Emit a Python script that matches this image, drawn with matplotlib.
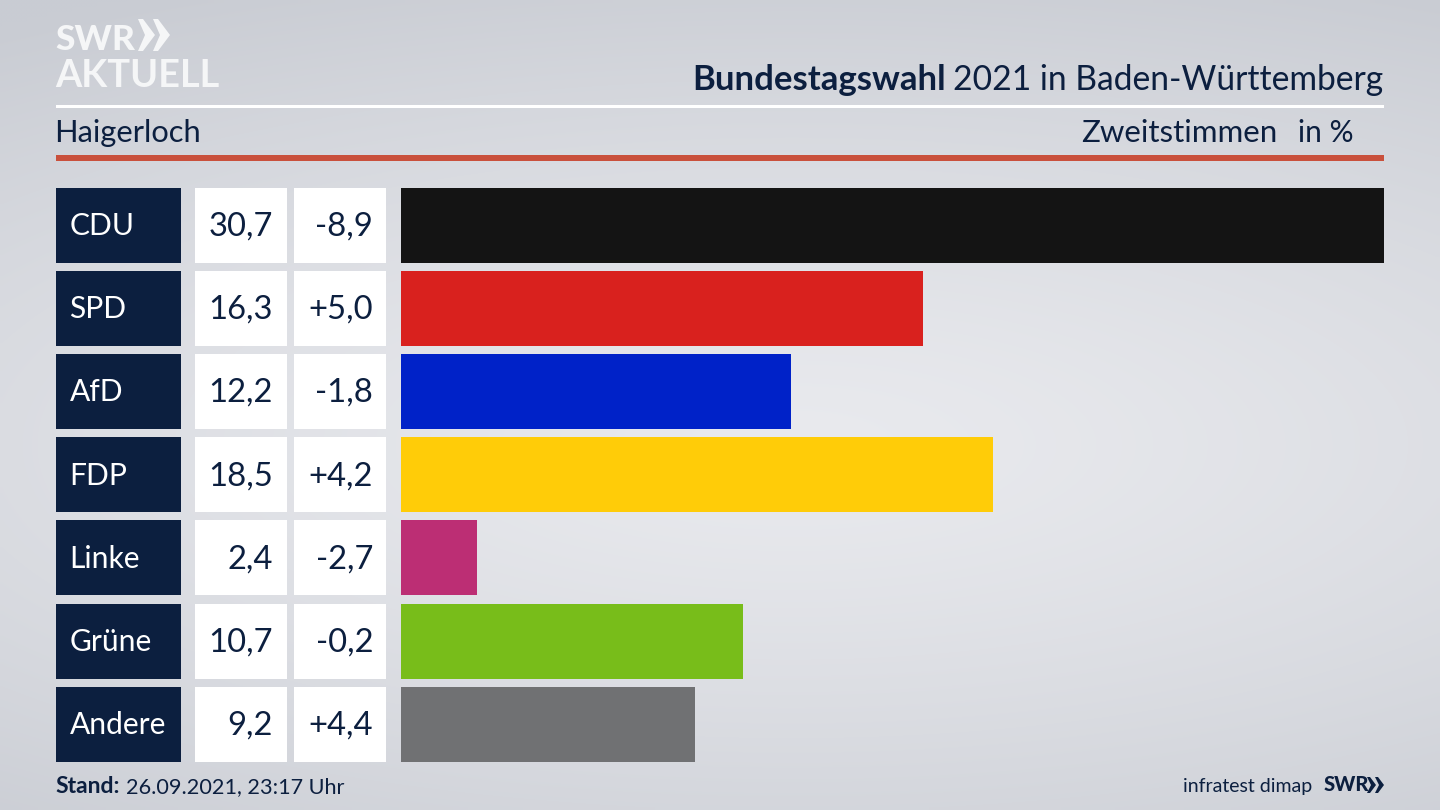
import numpy as np
import matplotlib
matplotlib.use("Agg")
import matplotlib.pyplot as plt
from matplotlib.patches import Rectangle, Polygon

parties = ["CDU", "SPD", "AfD", "FDP", "Linke", "Grüne", "Andere"]
shares = [30.7, 16.3, 12.2, 18.5, 2.4, 10.7, 9.2]
changes = ["-8,9", "+5,0", "-1,8", "+4,2", "-2,7", "-0,2", "+4,4"]
bar_colors = ["#141414", "#d9211e", "#0022c8", "#ffcc08", "#bc2e74", "#78bd1a", "#707173"]

NAVY = "#0c1f3f"
FONT = "Lato"
W, H = 1440, 810
fig = plt.figure(figsize=(W / 100, H / 100), dpi=100)

bg = fig.add_axes([0, 0, 1, 1])
bg.set_xlim(0, W)
bg.set_ylim(H, 0)
bg.axis("off")

yy, xx = np.mgrid[0:1:162j, 0:1:288j]
dist = np.sqrt(((xx - 0.55) / 1.0) ** 2 + ((yy - 0.55) / 0.62) ** 2)
shade = np.clip(dist, 0, 1)
light = np.array([233, 234, 238]) / 255
dark = np.array([201, 204, 211]) / 255
img = light + (dark - light) * shade[..., None] ** 1.3
bg.imshow(img, extent=(0, W, H, 0), aspect="auto", zorder=0, interpolation="bilinear")

bg.add_patch(Rectangle((56, 104.5), 1328, 3, color="white", lw=0, zorder=1))
bg.add_patch(Rectangle((56, 155), 1328, 5.5, color="#c9503c", lw=0, zorder=1))


def label(x, y, s, size, color=NAVY, ha="left", weight="normal"):
    return bg.text(x, y, s, family=FONT, fontsize=size, color=color, ha=ha, va="baseline",
                   weight=weight, zorder=2)


LOGO = "#f5f6f7"
label(55, 50, "SWR", 25.5, LOGO, weight="black")
label(55, 87, "AKTUELL", 27.3, LOGO, weight="bold")
for x0 in (138, 153):
    bg.add_patch(Polygon([(x0, 19), (x0 + 5, 19), (x0 + 17, 35), (x0 + 5, 51), (x0, 51), (x0 + 7, 35)],
                         closed=True, color=LOGO, lw=0, zorder=2))

label(692, 90, "Bundestagswahl", 25, weight="bold")
label(1383, 90, "2021 in Baden-Württemberg", 24.2, ha="right")
label(54.5, 142, "Haigerloch", 22.2)
label(1277, 142, "Zweitstimmen", 22.5, ha="right")
label(1354, 142, "in %", 21.5, ha="right")

top, step, bar_h = 187.5, 83.2, 75
bottom = top + step * (len(parties) - 1) + bar_h
ax = fig.add_axes([400.5 / W, 1 - bottom / H, (1384 - 400.5) / W, (bottom - top) / H])
ax.patch.set_alpha(0)
ax.set_xlim(0, max(shares))
half = bar_h / 2 / step
ax.set_ylim(len(parties) - 1 + half, -half)
ax.barh(range(len(parties)), shares, height=bar_h / step, color=bar_colors)
ax.axis("off")

for i, (party, share, change) in enumerate(zip(parties, shares, changes)):
    y = top + i * step
    base = y + 47.5
    bg.add_patch(Rectangle((56, y), 125, bar_h, color=NAVY, lw=0, zorder=1))
    bg.add_patch(Rectangle((195, y), 92, bar_h, color="white", lw=0, zorder=1))
    bg.add_patch(Rectangle((294, y), 92, bar_h, color="white", lw=0, zorder=1))
    label(69.5, base, party, 21.6, "white")
    label(273, base + 0.5, f"{share:.1f}".replace(".", ","), 23.6, ha="right")
    label(373, base + 0.5, change, 23.6, ha="right")

label(55.5, 793, "Stand:", 16.5, weight="bold")
label(126, 793, "26.09.2021, 23:17 Uhr", 15.6)
label(1312, 792, "infratest dimap", 14, ha="right")
label(1323.5, 791, "SWR", 14.5, weight="black")
for x0 in (1367, 1375):
    bg.add_patch(Polygon([(x0, 777), (x0 + 3, 777), (x0 + 9, 785), (x0 + 3, 793), (x0, 793), (x0 + 4, 785)],
                         closed=True, color=NAVY, lw=0, zorder=2))

fig.savefig("out.png", dpi=100)
